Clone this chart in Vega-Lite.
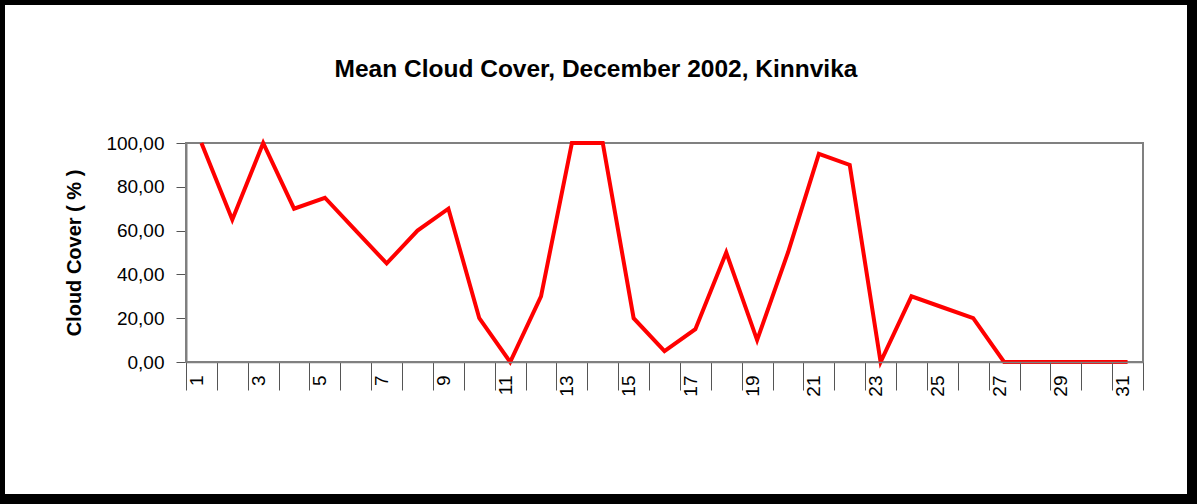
{
  "$schema": "https://vega.github.io/schema/vega-lite/v6.json",
  "autosize": {"type": "none"},
  "width": 1184,
  "height": 491,
  "padding": {"left": 4, "top": 4, "right": 9, "bottom": 9},
  "background": "black",
  "title": {
    "text": "Mean Cloud Cover, December 2002, Kinnvika",
    "font": "Liberation Sans",
    "fontSize": 24.5,
    "fontWeight": "bold",
    "color": "black",
    "anchor": "middle",
    "frame": "group",
    "baseline": "alphabetic",
    "offset": -97
  },
  "data": {
    "values": [
      {"day": 1, "cover": 100}, {"day": 2, "cover": 65}, {"day": 3, "cover": 100},
      {"day": 4, "cover": 70}, {"day": 5, "cover": 75}, {"day": 6, "cover": 60},
      {"day": 7, "cover": 45}, {"day": 8, "cover": 60}, {"day": 9, "cover": 70},
      {"day": 10, "cover": 20}, {"day": 11, "cover": 0}, {"day": 12, "cover": 30},
      {"day": 13, "cover": 100}, {"day": 14, "cover": 100}, {"day": 15, "cover": 20},
      {"day": 16, "cover": 5}, {"day": 17, "cover": 15}, {"day": 18, "cover": 50},
      {"day": 19, "cover": 10}, {"day": 20, "cover": 50}, {"day": 21, "cover": 95},
      {"day": 22, "cover": 90}, {"day": 23, "cover": 0}, {"day": 24, "cover": 30},
      {"day": 25, "cover": 25}, {"day": 26, "cover": 20}, {"day": 27, "cover": 0},
      {"day": 28, "cover": 0}, {"day": 29, "cover": 0}, {"day": 30, "cover": 0},
      {"day": 31, "cover": 0}
    ]
  },
  "layer": [
    {
      "mark": {"type": "rect", "filled": false, "stroke": "#808080", "strokeWidth": 1.5},
      "encoding": {
        "x": {"datum": 1, "type": "ordinal", "bandPosition": 0},
        "x2": {"datum": 31, "bandPosition": 1},
        "y": {"datum": 0, "type": "quantitative"},
        "y2": {"datum": 100}
      }
    },
    {
      "mark": {"type": "line", "color": "#FF0000", "strokeWidth": 4, "strokeJoin": "miter"},
      "encoding": {
        "x": {
          "field": "day",
          "type": "ordinal",
          "bandPosition": 0.5,
          "scale": {"type": "band", "paddingInner": 0, "paddingOuter": 0, "range": [182, 1139]},
          "axis": {
            "title": null,
            "offset": -133,
            "domain": true,
            "domainColor": "#808080",
            "domainWidth": 1.5,
            "tickBand": "extent",
            "tickSize": 28,
            "tickColor": "#555555",
            "labelAngle": -90,
            "labelAlign": "right",
            "labelBaseline": "middle",
            "labelPadding": -15,
            "labelOffset": -5,
            "labelFont": "Liberation Sans",
            "labelFontSize": 19,
            "labelColor": "black",
            "labelExpr": "datum.value % 2 == 1 ? datum.label : ''"
          }
        },
        "y": {
          "field": "cover",
          "type": "quantitative",
          "scale": {"domain": [0, 100], "nice": false, "zero": false, "range": [358, 139]},
          "axis": {
            "title": "Cloud Cover ( % )",
            "titleFont": "Liberation Sans",
            "titleFontSize": 20,
            "titleFontWeight": "bold",
            "titleColor": "black",
            "titlePadding": 21,
            "offset": -182,
            "domain": true,
            "domainColor": "black",
            "domainWidth": 1.5,
            "values": [0, 20, 40, 60, 80, 100],
            "grid": false,
            "tickColor": "#555555",
            "tickSize": 10,
            "labelPadding": 12,
            "labelFont": "Liberation Sans",
            "labelFontSize": 19,
            "labelColor": "black",
            "labelExpr": "replace(format(datum.value, '.2f'), '.', ',')"
          }
        }
      }
    }
  ],
  "config": {
    "view": {"stroke": "black", "strokeWidth": 2, "fill": "white"}
  }
}
